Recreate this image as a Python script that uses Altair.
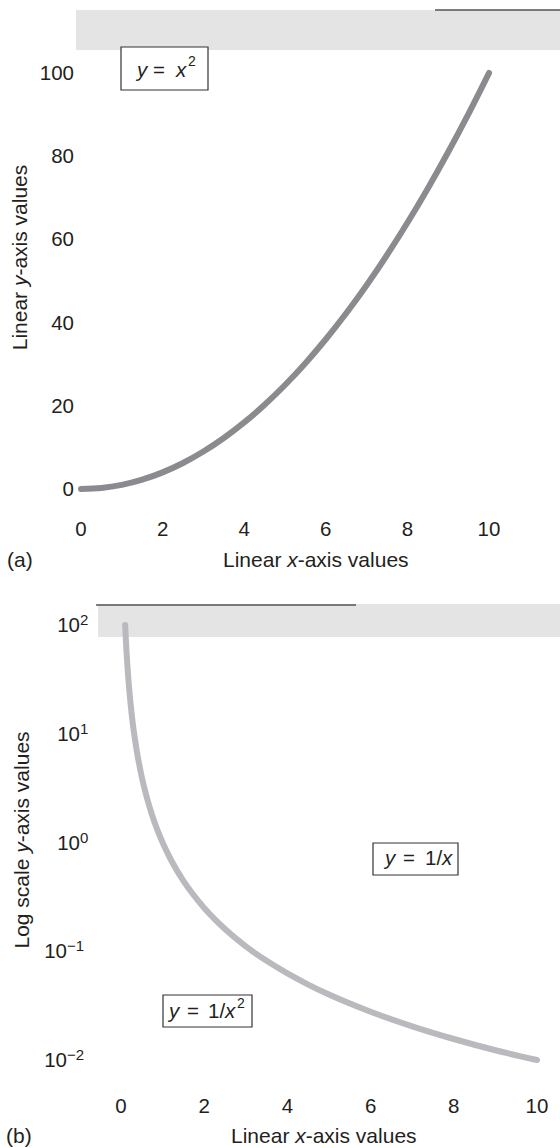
import math
import altair as alt
import pandas as pd

FONT = "Liberation Sans"
INK = "#231f20"
W, H = 560, 1148

# (a) y = x^2 on linear axes
xa = [0, 0.5, 1, 1.5, 2, 2.5, 3, 3.5, 4, 4.5, 5, 5.5, 6, 6.5, 7, 7.5, 8, 8.5, 9, 9.5, 10]
ya = [0, 0.25, 1, 2.25, 4, 6.25, 9, 12.25, 16, 20.25, 25, 30.25, 36, 42.25, 49, 56.25,
      64, 72.25, 81, 90.25, 100]

# (b) y = 1/x^2 on a log y axis
xb = [0.1, 0.12, 0.15, 0.2, 0.25, 0.3, 0.4, 0.5, 0.6, 0.7, 0.8, 0.9, 1, 1.2, 1.5, 1.75,
      2, 2.5, 3, 3.5, 4, 4.5, 5, 6, 7, 8, 9, 10]
yb = [100, 69.4, 44.4, 25, 16, 11.1, 6.25, 4, 2.78, 2.04, 1.56, 1.23, 1, 0.694, 0.444,
      0.327, 0.25, 0.16, 0.111, 0.0816, 0.0625, 0.0494, 0.04, 0.0278, 0.0204, 0.0156,
      0.0123, 0.01]

x_ticks = [0, 2, 4, 6, 8, 10]
ya_ticks = [0, 20, 40, 60, 80, 100]
yb_ticks = [0.01, 0.1, 1, 10, 100]
yb_exp = ["\u22122", "\u22121", "0", "1", "2"]


# ---- page layout: where the two panels' scales sit on the page ----
def lin_domain(v0, p0, v1, p1, size):
    """Linear domain whose range [0, size] puts v0 at pixel p0 and v1 at p1."""
    k = (p1 - p0) / (v1 - v0)
    return [v0 - p0 / k, v0 + (size - p0) / k]


def lin_domain_y(v0, p0, v1, p1, size):
    k = (p0 - p1) / (v1 - v0)            # pixels per unit, y grows downward
    top = v1 + p1 / k
    return [top - size / k, top]


def log_domain_y(v0, p0, v1, p1, size):
    l0, l1 = math.log10(v0), math.log10(v1)
    k = (p0 - p1) / (l1 - l0)
    top = l1 + p1 / k
    return [10 ** (top - size / k), 10 ** top]


xs_a = alt.Scale(domain=lin_domain(0, 81, 10, 489, W), nice=False, zero=False)
ys_a = alt.Scale(domain=lin_domain_y(0, 489, 100, 73, H), nice=False, zero=False)
xs_b = alt.Scale(domain=lin_domain(0, 121, 10, 537, W), nice=False, zero=False)
ys_b = alt.Scale(type="log", domain=log_domain_y(0.01, 1060, 100, 625, H), nice=False)

ADV = {"L": .556, "i": .222, "n": .556, "e": .556, "a": .556, "r": .333, " ": .278,
       "x": .5, "-": .333, "s": .5, "v": .5, "l": .222, "u": .556, "y": .5, "o": .556,
       "g": .556, "c": .5}


def text_width(s, size):
    return sum(ADV.get(ch, .556) for ch in s) * size


def single():
    return alt.Chart(pd.DataFrame({"k": [0]}))


def piece(text, x, y, italic=False, size=20.5, angle=0, baseline="alphabetic"):
    return single().mark_text(
        text=text, align="left", baseline=baseline, font=FONT, fontSize=size,
        fontStyle="italic" if italic else "normal", color=INK, angle=angle,
    ).encode(x=alt.value(x), y=alt.value(y))


def title_h(parts, x0, y, size=21):
    out, x = [], x0
    for text, italic in parts:
        out.append(piece(text, x, y, italic, size))
        x += text_width(text, size)
    return out


def title_v(parts, x, y_center, size=21):
    total = sum(text_width(t, size) for t, _ in parts)
    out, y = [], y_center + total / 2
    for text, italic in parts:
        out.append(piece(text, x, y, italic, size, angle=270))
        y -= text_width(text, size)
    return out


def box(x0, x1, y0, y1):
    return single().mark_rect(fill="white", stroke="#333333", strokeWidth=1.2).encode(
        x=alt.value(x0), x2=alt.value(x1), y=alt.value(y0), y2=alt.value(y1))


def band(x0, x1, y0, y1):
    return single().mark_rect(fill="#e4e4e4").encode(
        x=alt.value(x0), x2=alt.value(x1), y=alt.value(y0), y2=alt.value(y1))


def edge(x0, x1, y):
    return single().mark_rule(color="#555555", strokeWidth=1.4).encode(
        x=alt.value(x0), x2=alt.value(x1), y=alt.value(y))


label_style = dict(font=FONT, fontSize=20.5, color=INK)

# ---------- panel (a) ----------
curve_a = alt.Chart(pd.DataFrame({"x": xa, "y": ya})).mark_line(
    color="#8b8b8f", strokeWidth=6, strokeCap="round", interpolate="monotone"
).encode(x=alt.X("x:Q", scale=xs_a, axis=None), y=alt.Y("y:Q", scale=ys_a, axis=None))

xlab_a = alt.Chart(pd.DataFrame({"v": x_ticks})).mark_text(
    align="center", baseline="alphabetic", **label_style
).encode(x=alt.X("v:Q", scale=xs_a, axis=None), y=alt.value(536),
         text=alt.Text("v:Q", format="d"))

ylab_a = alt.Chart(pd.DataFrame({"v": ya_ticks})).mark_text(
    align="right", baseline="alphabetic", dy=7, **label_style
).encode(x=alt.value(74), y=alt.Y("v:Q", scale=ys_a, axis=None),
         text=alt.Text("v:Q", format="d"))

panel_a = alt.layer(curve_a, xlab_a, ylab_a)

# ---------- panel (b) ----------
curve_b = alt.Chart(pd.DataFrame({"x": xb, "y": yb})).mark_line(
    color="#b9babe", strokeWidth=6, strokeCap="round", interpolate="monotone"
).encode(x=alt.X("x:Q", scale=xs_b, axis=None), y=alt.Y("y:Q", scale=ys_b, axis=None))

xlab_b = alt.Chart(pd.DataFrame({"v": x_ticks})).mark_text(
    align="center", baseline="alphabetic", **label_style
).encode(x=alt.X("v:Q", scale=xs_b, axis=None), y=alt.value(1113),
         text=alt.Text("v:Q", format="d"))

ticks_b = pd.DataFrame({"v": yb_ticks, "exp": yb_exp})


def power_labels(cond, split_x):
    base = alt.Chart(ticks_b).transform_filter(cond).mark_text(
        text="10", align="right", baseline="alphabetic", dy=7, **label_style
    ).encode(x=alt.value(split_x), y=alt.Y("v:Q", scale=ys_b, axis=None))
    sup = alt.Chart(ticks_b).transform_filter(cond).mark_text(
        align="left", baseline="alphabetic", dy=0, font=FONT, fontSize=15, color=INK
    ).encode(x=alt.value(split_x), y=alt.Y("v:Q", scale=ys_b, axis=None),
             text="exp:N")
    return [base, sup]


panel_b = alt.layer(curve_b, xlab_b,
                    *power_labels("datum.v < 1", 67),
                    *power_labels("datum.v >= 1", 80))

# ---------- frame remnants, titles and annotation boxes ----------
decor = [
    band(76, 560, 10, 50), edge(435, 560, 10),
    band(98, 560, 604, 637), edge(96, 356, 605),
]

notes = [
    box(121, 208, 47, 90),
    piece("y", 137, 77, True), piece("=", 153, 77), piece("x", 176, 77, True),
    piece("2", 188, 66, size=14),
    box(373, 458, 843, 875),
    piece("y", 385, 865, True), piece("=", 403, 865), piece("1/", 425, 865),
    piece("x", 442, 865, True),
    box(163, 252, 995, 1027),
    piece("y", 169, 1018, True), piece("=", 187, 1018), piece("1/", 208, 1018),
    piece("x", 225, 1018, True), piece("2", 237, 1008, size=14),
    piece("(a)", 7, 567, size=21), piece("(b)", 6, 1143, size=21),
]

x_title = [("Linear ", False), ("x", True), ("-axis values", False)]
titles = (
    title_h(x_title, 223, 567)
    + title_h(x_title, 231, 1143)
    + title_v([("Linear ", False), ("y", True), ("-axis values", False)], 27, 257.5)
    + title_v([("Log scale ", False), ("y", True), ("-axis values", False)], 29, 840)
)

chart = alt.layer(
    *decor, panel_a, panel_b, *notes, *titles
).resolve_scale(
    x="independent", y="independent"
).properties(
    width=W, height=H, padding=0, autosize=alt.AutoSizeParams(type="none")
).configure_view(stroke=None)

chart.save("out.html", embed_options={"renderer": "svg", "actions": False})
